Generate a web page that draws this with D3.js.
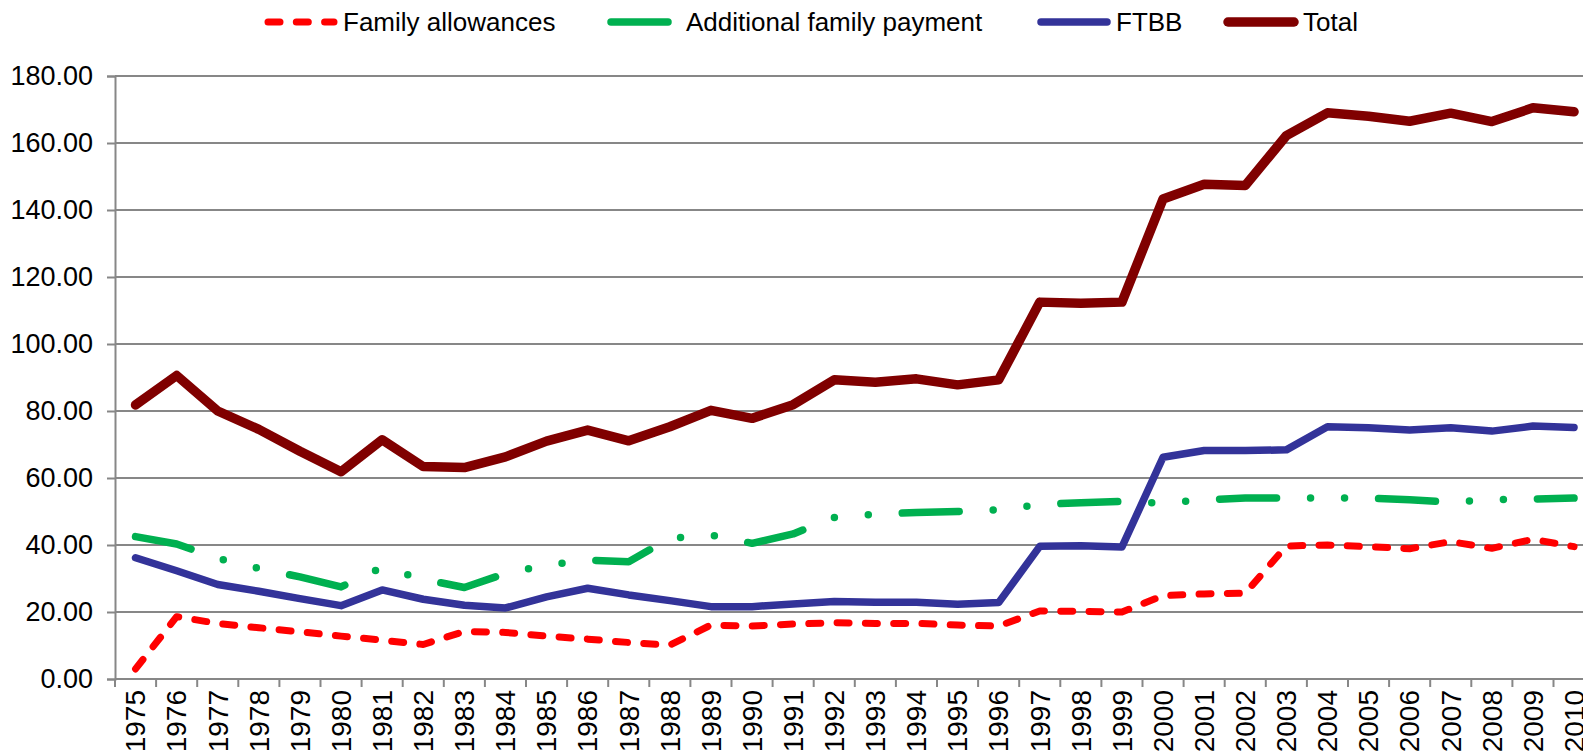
<!DOCTYPE html>
<html>
<head>
<meta charset="utf-8">
<script src="https://cdn.jsdelivr.net/npm/d3@7"></script>
<style>
  body { margin: 0; background: #fff; overflow: hidden; }
  text { font-family: "Liberation Sans", Arial, sans-serif; fill: #000; }
</style>
</head>
<body>
<script>
var years = ["1975","1976","1977","1978","1979","1980","1981","1982","1983","1984",
             "1985","1986","1987","1988","1989","1990","1991","1992","1993","1994",
             "1995","1996","1997","1998","1999","2000","2001","2002","2003","2004",
             "2005","2006","2007","2008","2009","2010"];

var familyAllowances = [3, 18.6, 16.6, 15.3, 14.1, 12.8, 11.6, 10.3, 14.2, 13.9,
                        12.8, 11.9, 10.9, 10.1, 16.1, 15.8, 16.4, 16.8, 16.6, 16.6,
                        16.1, 15.8, 20.3, 20.2, 20.0, 24.9, 25.4, 25.6, 39.7, 40,
                        39.5, 38.9, 41, 39, 41.7, 39.5];

var additionalFamilyPayment = [42.5, 40.3, 36, 33, 30.5, 27.5, 33.3, 29.8, 27.3, 31.5,
                               34, 35.5, 35, 42, 43, 40.5, 43.3, 48.2, 49.2, 49.7,
                               50, 50.5, 52.1, 52.6, 53, 52.5, 53.5, 54, 54, 54,
                               54, 53.5, 52.8, 53.5, 53.7, 54];

var ftbb = [36.2, 32.3, 28.2, 26.2, 24, 21.9, 26.6, 23.8, 22, 21.2,
            24.5, 27.1, 25.1, 23.4, 21.6, 21.6, 22.4, 23.1, 22.9, 22.9,
            22.3, 22.8, 39.6, 39.8, 39.4, 66.2, 68.2, 68.2, 68.4, 75.3,
            75, 74.3, 75, 74, 75.5, 75.1];

var total = [81.8, 90.6, 80, 74.5, 68, 61.9, 71.4, 63.4, 63.1, 66.3,
             71, 74.3, 71.1, 75.3, 80.2, 77.8, 81.9, 89.3, 88.6, 89.6,
             87.8, 89.3, 112.5, 112.2, 112.5, 143.3, 147.7, 147.3, 162.2, 169,
             168, 166.5, 168.9, 166.4, 170.5, 169.3];

var yTicks = [0, 20, 40, 60, 80, 100, 120, 140, 160, 180];

var seriesNames = ["Family allowances", "Additional family payment", "FTBB", "Total"];

var WIDTH = 1583;
var HEIGHT = 755;

var series = [
  { name: seriesNames[0], values: familyAllowances, color: "#ff0000", width: 7, dash: "12 16.3" },
  { name: seriesNames[1], values: additionalFamilyPayment, color: "#00b050", width: 7.5, dash: "57 34 0 34 0 34" },
  { name: seriesNames[2], values: ftbb, color: "#333399", width: 7.5, dash: null },
  { name: seriesNames[3], values: total, color: "#800000", width: 9.5, dash: null }
];

var svg = d3.select("body")
            .append("svg")
            .attr("width", WIDTH)
            .attr("height", HEIGHT);

var x = d3.scaleBand()
          .domain(years)
          .range([115, 115 + 36 * 41.1]);

var y = d3.scaleLinear()
          .domain([0, 180])
          .range([679, 76]);

// gridlines
svg.append("g")
   .selectAll("line")
   .data(yTicks.slice(1))
   .enter()
   .append("line")
   .attr("x1", 115)
   .attr("x2", WIDTH)
   .attr("y1", d => y(d))
   .attr("y2", d => y(d))
   .style("stroke", "#878787")
   .style("stroke-width", 2);

// y axis
var yAxis = svg.append("g")
               .attr("transform", "translate(115,0)")
               .call(d3.axisLeft(y).tickValues(yTicks).tickFormat(d3.format(".2f")).tickSize(8).tickPadding(14));
yAxis.select(".domain").style("stroke", "#878787").style("stroke-width", 2);
yAxis.selectAll(".tick line").style("stroke", "#878787").style("stroke-width", 2);
yAxis.selectAll(".tick text")
     .style("font-size", "27px")
     .style("font-family", "'Liberation Sans', Arial, sans-serif");

// x axis
var xAxis = svg.append("g")
               .attr("transform", "translate(0,679)")
               .call(d3.axisBottom(x).tickSize(0).tickPadding(0));
xAxis.select(".domain").remove();
xAxis.append("line")
     .attr("x1", 115).attr("x2", WIDTH)
     .style("stroke", "#878787").style("stroke-width", 2);
xAxis.selectAll(".tickmark")
     .data(years.concat(["end"]))
     .enter()
     .append("line")
     .classed("tickmark", true)
     .attr("x1", (d, i) => x.range()[0] + i * x.step())
     .attr("x2", (d, i) => x.range()[0] + i * x.step())
     .attr("y1", 0)
     .attr("y2", 8)
     .style("stroke", "#878787")
     .style("stroke-width", 2);
xAxis.selectAll(".tick text")
     .attr("transform", "rotate(-90)")
     .attr("x", -11)
     .attr("y", 0)
     .attr("dy", "0.35em")
     .style("text-anchor", "end")
     .style("font-size", "28px")
     .style("font-family", "'Liberation Sans', Arial, sans-serif");

// lines
var line = d3.line()
             .x((d, i) => x(years[i]) + x.bandwidth() / 2)
             .y(d => y(d));

svg.append("g")
   .selectAll("path.series")
   .data(series)
   .enter()
   .append("path")
   .classed("series", true)
   .attr("d", d => line(d.values))
   .style("fill", "none")
   .style("stroke", d => d.color)
   .style("stroke-width", d => d.width)
   .style("stroke-linecap", "round")
   .style("stroke-linejoin", "round")
   .style("stroke-dasharray", d => d.dash);

// legend
var legendX = [268, 611, 1041, 1228];
var legend = svg.append("g")
                .selectAll("g")
                .data(series)
                .enter()
                .append("g")
                .attr("transform", (d, i) => "translate(" + legendX[i] + ",22)");
legend.append("line")
      .attr("x1", 0)
      .attr("x2", 66)
      .style("stroke", d => d.color)
      .style("stroke-width", d => d.width)
      .style("stroke-linecap", "round")
      .style("stroke-dasharray", d => d.dash);
legend.append("text")
      .attr("x", 75)
      .attr("dy", "0.35em")
      .style("font-size", "26px")
      .text(d => d.name);
</script>
</body>
</html>
